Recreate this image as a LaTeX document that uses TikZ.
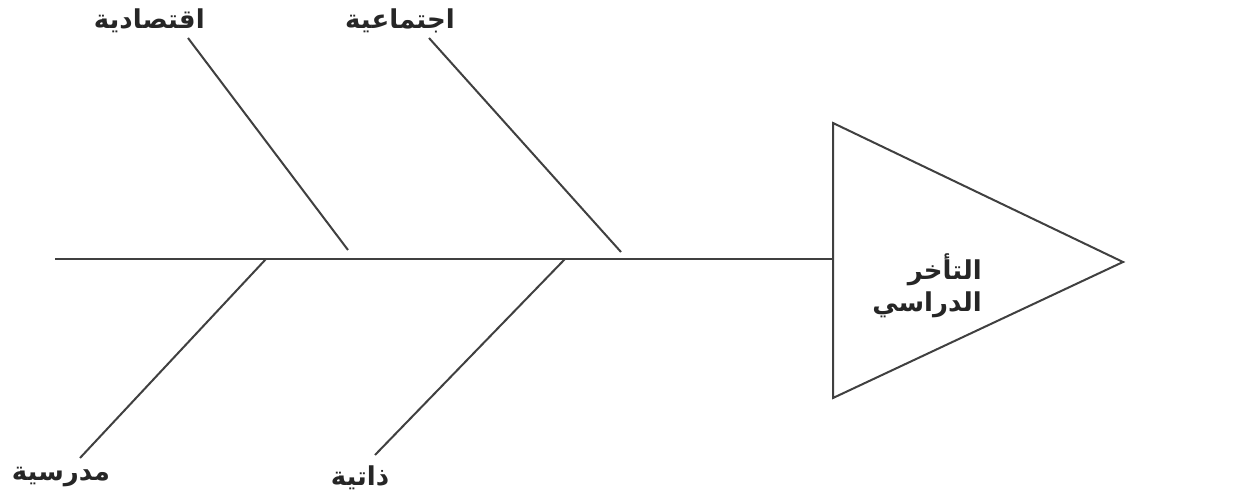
\documentclass[tikz,border=0pt]{standalone}
\usepackage{fontspec}
\TeXXeTstate=1
\newfontfamily\arabicfont[Script=Arabic]{DejaVu Sans}
\begin{document}
\begin{tikzpicture}[x=0.75pt,y=-0.75pt,
  bone/.style={draw=black!75,line width=1.5pt},
  lbl/.style={font=\arabicfont\bfseries\fontsize{19.5}{22}\selectfont,text=black!85,inner sep=0pt}]
\useasboundingbox (0,0) rectangle (1250,498);
% triangle (head)
\coordinate (t1) at (833,123);
\coordinate (t2) at (833,398);
\coordinate (apex) at (1123,262);
\coordinate (hb) at (833,259);
\draw[bone] (t1) -- (apex) -- (t2) -- cycle;
\node[lbl,anchor=east] (head1) at (982,270) {\beginR التأخر\endR};
\node[lbl,anchor=east] (head2) at (982,305) {\beginR الدراسي\endR};
% spine
\coordinate (tail) at (55,259);
\draw[bone] (tail) -- (hb);
% upper bones
\coordinate (u1s) at (188,38);
\coordinate (u1e) at (348,250);
\coordinate (u2s) at (429,38);
\coordinate (u2e) at (621,252);
\draw[bone] (u1s) -- (u1e);
\draw[bone] (u2s) -- (u2e);
% lower bones
\coordinate (d1s) at (266,259);
\coordinate (d1e) at (80,458);
\coordinate (d2s) at (565,259);
\coordinate (d2e) at (375,455);
\draw[bone] (d1s) -- (d1e);
\draw[bone] (d2s) -- (d2e);
% labels
\node[lbl,anchor=east] (econ) at (205,21) {\beginR اقتصادية\endR};
\node[lbl,anchor=east] (soc) at (455,21) {\beginR اجتماعية\endR};
\node[lbl] (school) at (61,477) {\beginR مدرسية\endR};
\node[lbl] (self) at (360,478) {\beginR ذاتية\endR};
\end{tikzpicture}
\end{document}
